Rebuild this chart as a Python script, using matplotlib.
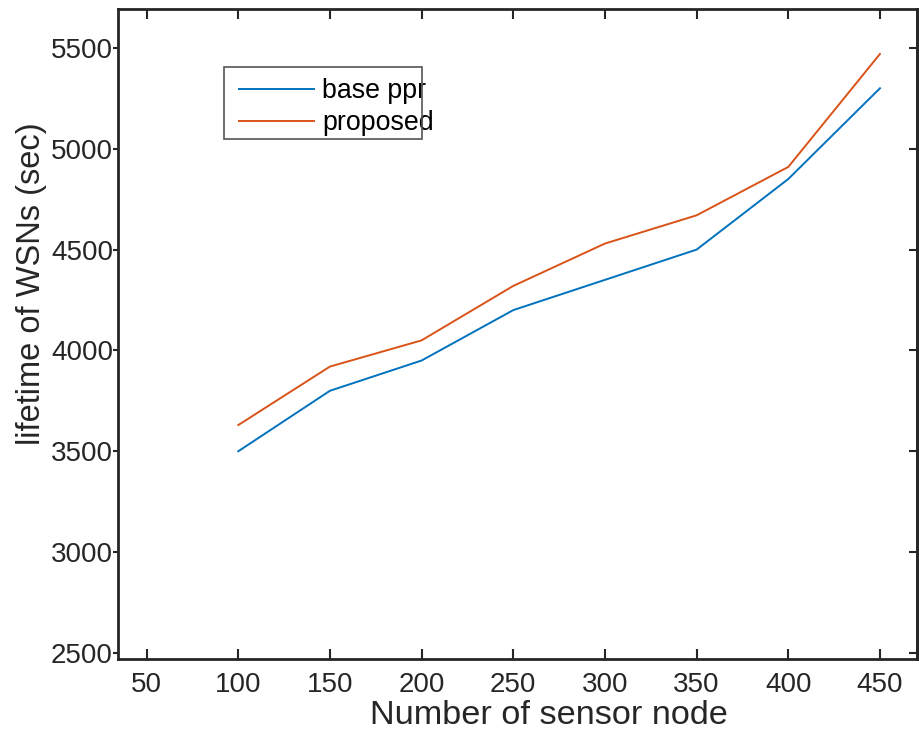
import matplotlib
matplotlib.use('Agg')
import matplotlib.pyplot as plt
from matplotlib.patches import Rectangle

plt.rcParams['font.family'] = ['Liberation Sans', 'DejaVu Sans']

# sensor counts and network lifetime (sec)
nodes = [100, 150, 200, 250, 300, 350, 400, 450]
base_ppr = [3500, 3800, 3950, 4200, 4350, 4500, 4850, 5300]
proposed = [3630, 3920, 4050, 4320, 4530, 4670, 4910, 5470]

x_ticks = [50, 100, 150, 200, 250, 300, 350, 400, 450]
y_ticks = [2500, 3000, 3500, 4000, 4500, 5000, 5500]

AX_COLOR = '#262626'
W, H = 919, 740

fig = plt.figure(figsize=(W/100, H/100), dpi=100)
ax = fig.add_axes([118/W, 1 - 659/H, 799/W, 650/H])

ax.plot(nodes, base_ppr, color='#0072BD', lw=1.4, label='base ppr')
ax.plot(nodes, proposed, color='#D95319', lw=1.4, label='proposed')

ax.set_xlim(34.4, 470.2)
ax.set_ylim(2470, 5693)
ax.set_xticks(x_ticks)
ax.set_yticks(y_ticks)

for s in ax.spines.values():
    s.set_linewidth(2)
    s.set_color(AX_COLOR)

ax.tick_params(axis='x', direction='in', top=True, length=7, width=1.5,
               labelsize=20, colors=AX_COLOR, pad=9)
ax.tick_params(axis='y', direction='out', length=3.6, width=1.5,
               labelsize=20, colors=AX_COLOR, pad=0)

# inward ticks on the right edge
sec = ax.secondary_yaxis('right')
sec.set_yticks(y_ticks)
sec.tick_params(direction='in', length=5.8, width=1.5, labelright=False,
                colors=AX_COLOR)
sec.spines['right'].set_linewidth(2)
sec.spines['right'].set_color(AX_COLOR)

ax.set_xlabel('Number of sensor node', fontsize=24.7, color=AX_COLOR)
ax.set_ylabel('lifetime of WSNs (sec)', fontsize=23.5, color=AX_COLOR)
ax.xaxis.set_label_coords(0.539, -0.063)
ax.yaxis.set_label_coords(-0.089, 0.577)

# legend entries without their own frame, boxed separately
leg = ax.legend(loc='upper left', bbox_to_anchor=(239/W, 1 - 78/H),
                bbox_transform=fig.transFigure, borderaxespad=0,
                fontsize=19.3, handlelength=2.8, handletextpad=0.3,
                labelspacing=0.24, borderpad=0, frameon=False)
fig.patches.append(Rectangle((224/W, 1 - 139/H), 198/W, 72/H,
                             transform=fig.transFigure, fill=False,
                             edgecolor='#555555', linewidth=1.2, zorder=5))

plt.savefig('out.png', dpi=100)
